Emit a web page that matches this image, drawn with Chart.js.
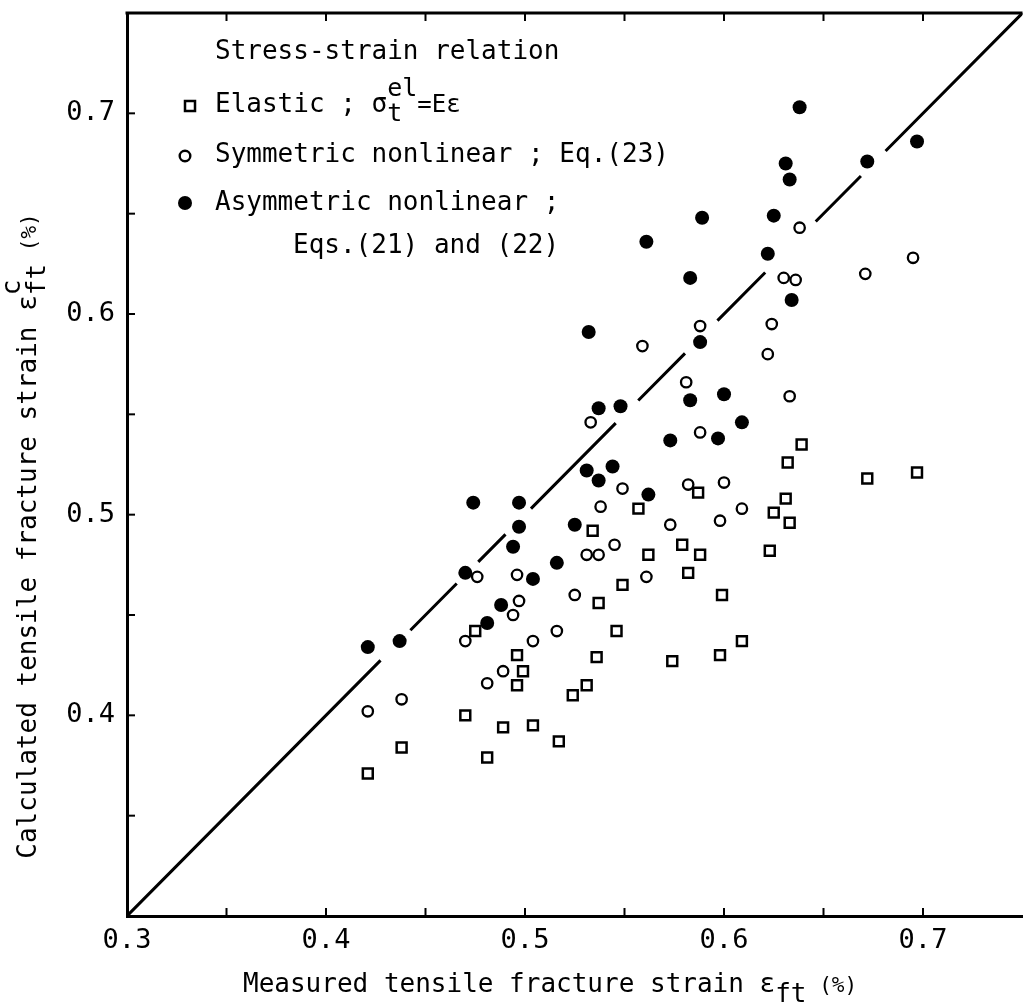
<!DOCTYPE html>
<html>
<head>
<meta charset="utf-8">
<script src="https://cdn.jsdelivr.net/npm/chart.js@4.4.1/dist/chart.umd.min.js"></script>
<style>
  html, body { margin: 0; padding: 0; background: #fff; overflow: hidden; }
  canvas { display: block; }
</style>
</head>
<body>
<canvas id="chart" width="1032" height="1004"></canvas>
<script>
// Elastic stress-strain relation (squares)
const elasticX = [0.421,0.438,0.470,0.475,0.481,0.489,0.496,0.496,0.499,0.504,0.517,0.524,0.531,0.534,0.536,0.537,0.546,0.549,0.557,0.562,0.574,0.579,0.582,0.587,0.588,0.598,0.599,0.609,0.623,0.625,0.631,0.632,0.633,0.639,0.672,0.697];
const elasticY = [0.371,0.384,0.400,0.442,0.379,0.394,0.415,0.430,0.422,0.395,0.387,0.410,0.415,0.492,0.429,0.456,0.442,0.465,0.503,0.480,0.427,0.485,0.471,0.511,0.480,0.430,0.460,0.437,0.482,0.501,0.508,0.526,0.496,0.535,0.518,0.521];

// Symmetric nonlinear relation (open circles)
const symX = [0.421,0.438,0.470,0.476,0.481,0.489,0.494,0.496,0.497,0.504,0.516,0.525,0.531,0.537,0.533,0.538,0.545,0.549,0.559,0.561,0.573,0.581,0.582,0.588,0.588,0.598,0.600,0.609,0.622,0.624,0.630,0.636,0.633,0.638,0.671,0.695];
const symY = [0.402,0.408,0.437,0.469,0.416,0.422,0.450,0.470,0.457,0.437,0.442,0.460,0.480,0.480,0.546,0.504,0.485,0.513,0.584,0.469,0.495,0.566,0.515,0.541,0.594,0.497,0.516,0.503,0.580,0.595,0.618,0.617,0.559,0.643,0.620,0.628];

// Asymmetric nonlinear relation (filled circles)
const asymX = [0.421,0.437,0.470,0.474,0.481,0.488,0.494,0.497,0.497,0.504,0.516,0.525,0.531,0.532,0.537,0.544,0.537,0.548,0.561,0.562,0.573,0.583,0.583,0.588,0.589,0.597,0.600,0.609,0.622,0.625,0.631,0.633,0.634,0.638,0.672,0.697];
const asymY = [0.434,0.437,0.471,0.506,0.446,0.455,0.484,0.494,0.506,0.468,0.476,0.495,0.522,0.591,0.517,0.524,0.553,0.554,0.636,0.510,0.537,0.618,0.557,0.586,0.648,0.538,0.560,0.546,0.630,0.649,0.675,0.667,0.607,0.703,0.676,0.686];

// 1:1 reference line, drawn as broken pieces (start / end of each piece)
const diagFrom = [0.300,0.4424,0.4765,0.5030,0.5569,0.5967,0.6461,0.6812];
const diagTo   = [0.4274,0.4657,0.4902,0.5456,0.5804,0.6207,0.6688,0.750];

// Axis ticks
const tickVals = [0.30,0.35,0.40,0.45,0.50,0.55,0.60,0.65,0.70];
const xLabelVals = [0.3,0.4,0.5,0.6,0.7];
const yLabelVals = [0.4,0.5,0.6,0.7];

const toPts = (xs, ys) => xs.map((v, i) => ({ x: v, y: ys[i] }));

const diagPts = [];
diagFrom.forEach((a, i) => {
  diagPts.push({ x: a, y: a }, { x: diagTo[i], y: diagTo[i] });
  if (i < diagFrom.length - 1) {
    const mid = (diagTo[i] + diagFrom[i + 1]) / 2;
    diagPts.push({ x: mid, y: null });
  }
});

const FONT = '"DejaVu Sans Mono", "Liberation Mono", monospace';

function labelFor(list) {
  return v => {
    const hit = list.find(l => Math.abs(l - v) < 1e-6);
    return hit === undefined ? '' : hit.toFixed(1);
  };
}

// draw a run of text pieces: [text, size, dy] or a stacked sup/sub pair
function run(ctx, parts, x, y) {
  let cx = x;
  for (const p of parts) {
    if (p.stack) {
      ctx.font = p.size + 'px ' + FONT;
      ctx.fillText(p.sup, cx, y + p.supDy);
      ctx.fillText(p.sub, cx, y + p.subDy);
      cx += Math.max(ctx.measureText(p.sup).width, ctx.measureText(p.sub).width);
    } else {
      ctx.font = p[1] + 'px ' + FONT;
      ctx.fillText(p[0], cx, y + (p[2] || 0));
      cx += ctx.measureText(p[0]).width;
    }
  }
  return cx - x;
}

function measureRun(ctx, parts) {
  let w = 0;
  for (const p of parts) {
    ctx.font = (p.stack ? p.size : p[1]) + 'px ' + FONT;
    if (p.stack) w += Math.max(ctx.measureText(p.sup).width, ctx.measureText(p.sub).width);
    else w += ctx.measureText(p[0]).width;
  }
  return w;
}

const decor = {
  id: 'decor',
  afterDraw(chart) {
    const { ctx, chartArea: a, scales: { x, y } } = chart;
    ctx.save();
    ctx.strokeStyle = '#000';
    ctx.fillStyle = '#000';

    // top frame line
    ctx.lineWidth = 3;
    ctx.beginPath();
    ctx.moveTo(a.left - 1.5, a.top);
    ctx.lineTo(a.right, a.top);
    ctx.stroke();

    // inward tick marks
    ctx.lineWidth = 2;
    x.ticks.forEach(t => {
      const px = x.getPixelForValue(t.value);
      if (px < a.left + 3) return;
      ctx.beginPath();
      ctx.moveTo(px, a.bottom); ctx.lineTo(px, a.bottom - 8);
      ctx.moveTo(px, a.top); ctx.lineTo(px, a.top + 8);
      ctx.stroke();
    });
    y.ticks.forEach(t => {
      const py = y.getPixelForValue(t.value);
      if (py > a.bottom - 3) return;
      ctx.beginPath();
      ctx.moveTo(a.left, py); ctx.lineTo(a.left + 8, py);
      ctx.stroke();
    });

    // key
    ctx.textBaseline = 'alphabetic';
    ctx.textAlign = 'left';
    run(ctx, [['Stress-strain relation', 26]], 215, 59);

    ctx.lineWidth = 2.5;
    ctx.fillStyle = '#fff';
    ctx.beginPath(); ctx.rect(185, 101, 10, 10); ctx.fill(); ctx.stroke();
    ctx.fillStyle = '#000';
    run(ctx, [
      ['Elastic ; σ', 26],
      { stack: true, sup: 'el', sub: 't', size: 25, supDy: -16, subDy: 9 },
      ['=Eε', 24]
    ], 215, 112);

    ctx.lineWidth = 2.4;
    ctx.beginPath(); ctx.arc(185, 156, 5.3, 0, Math.PI * 2); ctx.stroke();
    run(ctx, [['Symmetric nonlinear ; Eq.(23)', 26]], 215, 162);

    ctx.beginPath(); ctx.arc(185, 203, 7, 0, Math.PI * 2); ctx.fill();
    run(ctx, [['Asymmetric nonlinear ;', 26]], 215, 210);
    run(ctx, [['Eqs.(21) and (22)', 26]], 293, 253);

    // axis titles
    run(ctx, [
      ['Measured tensile fracture strain ', 26],
      ['ε', 26],
      ['ft', 26, 10],
      [' (%)', 21]
    ], 243, 992);

    const yParts = [
      ['Calculated tensile fracture strain ', 26],
      ['ε', 26],
      { stack: true, sup: 'c', sub: 'ft', size: 26, supDy: -16, subDy: 9 },
      [' (%)', 21]
    ];
    const w = measureRun(ctx, yParts);
    ctx.translate(36, 536 + w / 2);
    ctx.rotate(-Math.PI / 2);
    run(ctx, yParts, 0, 0);
    ctx.restore();
  }
};

new Chart(document.getElementById('chart'), {
  type: 'scatter',
  data: {
    datasets: [
      {
        label: '1:1',
        type: 'line',
        data: diagPts,
        borderColor: '#000',
        borderWidth: 3,
        pointRadius: 0,
        spanGaps: false,
        tension: 0
      },
      {
        label: 'Elastic',
        data: toPts(elasticX, elasticY),
        pointStyle: 'rect',
        pointRadius: 7,
        pointBorderWidth: 2.5,
        pointBackgroundColor: '#fff',
        pointBorderColor: '#000'
      },
      {
        label: 'Symmetric nonlinear',
        data: toPts(symX, symY),
        pointStyle: 'circle',
        pointRadius: 5.2,
        pointBorderWidth: 2.3,
        pointBackgroundColor: '#fff',
        pointBorderColor: '#000'
      },
      {
        label: 'Asymmetric nonlinear',
        data: toPts(asymX, asymY),
        pointStyle: 'circle',
        pointRadius: 7,
        pointBorderWidth: 0,
        pointBackgroundColor: '#000',
        pointBorderColor: '#000'
      }
    ]
  },
  options: {
    responsive: false,
    maintainAspectRatio: false,
    animation: false,
    layout: { padding: { top: 13, right: 1, left: 0, bottom: 0 } },
    plugins: { legend: { display: false }, tooltip: { enabled: false } },
    scales: {
      x: {
        type: 'linear',
        min: 0.3,
        max: 0.75,
        afterBuildTicks: s => { s.ticks = tickVals.map(v => ({ value: v })); },
        afterFit: s => { s.height = 88; s.paddingLeft = 0; s.paddingRight = 0; },
        grid: { display: false, drawTicks: false },
        border: { display: true, color: '#000', width: 3 },
        ticks: {
          autoSkip: false,
          maxRotation: 0,
          padding: 9,
          color: '#000',
          font: { family: FONT, size: 27 },
          callback: labelFor(xLabelVals)
        }
      },
      y: {
        type: 'linear',
        min: 0.3,
        max: 0.75,
        afterBuildTicks: s => { s.ticks = tickVals.map(v => ({ value: v })); },
        afterFit: s => { s.width = 127; s.paddingTop = 0; s.paddingBottom = 0; },
        grid: { display: false, drawTicks: false },
        border: { display: true, color: '#000', width: 3 },
        ticks: {
          autoSkip: false,
          padding: 12,
          color: '#000',
          font: { family: FONT, size: 27 },
          callback: labelFor(yLabelVals)
        }
      }
    }
  },
  plugins: [decor]
});
</script>
</body>
</html>
